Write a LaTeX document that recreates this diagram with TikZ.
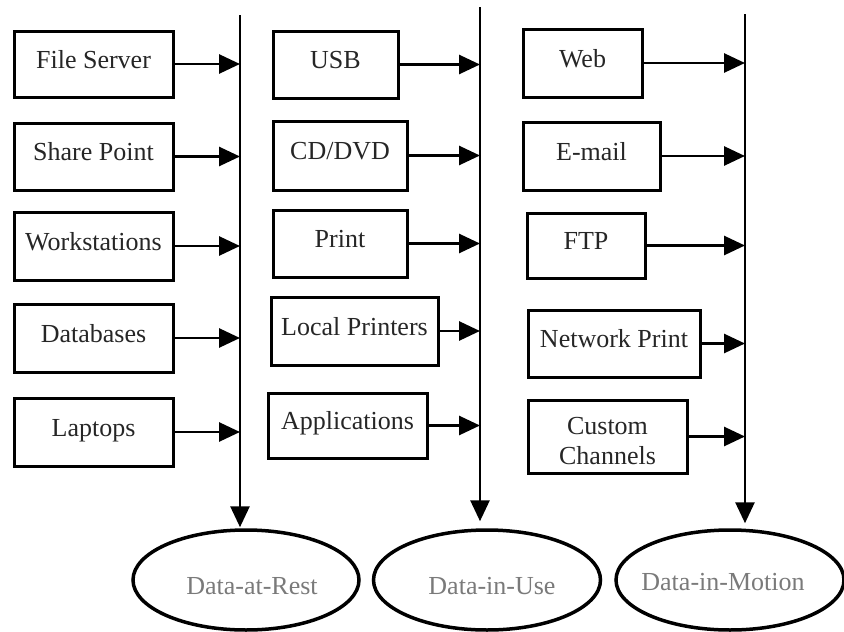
\documentclass[tikz,border=0pt]{standalone}
\usepackage{fontspec}
\setmainfont{Liberation Serif}
\usetikzlibrary{arrows.meta,shapes.geometric}

\begin{document}
\begin{tikzpicture}[x=1pt,y=-1pt,
  every node/.style={font=\fontsize{26}{30}\selectfont},
  srcbox/.style={draw=black, line width=3pt, rectangle, inner sep=0pt,
    text=black!85, text height=18pt, text depth=10pt},
  tallbox/.style={draw=black, line width=3pt, rectangle, inner sep=0pt,
    text=black!85, align=center},
  state/.style={draw=black, line width=3.5pt, ellipse, inner sep=0pt,
    minimum height=100pt},
  statetext/.style={text=black!52, inner sep=0pt},
  flow/.style={line width=2.8pt, -{Triangle[length=21pt,width=19pt]}}
]
\useasboundingbox (0,0) rectangle (844,632);

% three collecting lines
\coordinate (t1) at (240,15);
\coordinate (t2) at (480,7);
\coordinate (t3) at (745,14);

% data states
\node[state, minimum width=226pt] (e1) at (246,580) {};
\node[state, minimum width=227pt] (e2) at (487,580) {};
\node[state, minimum width=228pt] (e3) at (730,580) {};
\node[statetext] (l1) at (252,586) {Data-at-Rest};
\node[statetext] (l2) at (492,586) {Data-in-Use};
\node[statetext] (l3) at (723,582) {Data-in-Motion};

% data at rest
\node[srcbox, minimum width=159pt, minimum height=66pt] (fs) at (93.5,64) {File Server};
\node[srcbox, minimum width=159pt, minimum height=67pt] (sp) at (93.5,156.5) {Share Point};
\node[srcbox, minimum width=159pt, minimum height=68pt] (ws) at (93.5,246) {Workstations};
\node[srcbox, minimum width=159pt, minimum height=68pt] (db) at (93.5,338) {Databases};
\node[srcbox, minimum width=159pt, minimum height=68pt] (lp) at (93.5,432) {Laptops};

% data in use
\node[srcbox, minimum width=125pt, minimum height=67pt] (usb) at (335.5,64.5) {USB};
\node[srcbox, minimum width=134pt, minimum height=69pt] (cd) at (340,155.5) {CD/DVD};
\node[srcbox, minimum width=134pt, minimum height=67pt] (pr) at (340,243.5) {Print};
\node[srcbox, minimum width=167pt, minimum height=68pt] (lpr) at (354.5,331) {Local Printers};
\node[srcbox, minimum width=159pt, minimum height=65pt] (app) at (347.5,425.5) {Applications};

% data in motion
\node[srcbox, minimum width=119pt, minimum height=68pt] (web) at (582.5,63) {Web};
\node[srcbox, minimum width=137pt, minimum height=68pt] (em) at (591.5,156) {E-mail};
\node[srcbox, minimum width=118pt, minimum height=65pt] (ftp) at (586,245.5) {FTP};
\node[srcbox, minimum width=172pt, minimum height=67pt] (np) at (614,343.5) {Network Print};
\node[tallbox, minimum width=159pt, minimum height=73pt] (cc) at (607.5,436.5) {\rule{0pt}{27pt}Custom\\Channels};

% vertical collectors
\draw[flow, shorten >=1pt] (t1) -- (t1 |- e1.north);
\draw[flow, shorten >=7pt] (t2) -- (t2 |- e2.north);
\draw[flow, shorten >=5pt] (t3) -- (t3 |- e3.north);

% feeds into the collectors
\foreach \b in {fs,sp,ws,db,lp}
  \draw[flow] (\b.east) -- (\b.east -| t1);
\foreach \b in {usb,cd,pr,lpr,app}
  \draw[flow] (\b.east) -- (\b.east -| t2);
\foreach \b in {web,em,ftp,np,cc}
  \draw[flow] (\b.east) -- (\b.east -| t3);
\end{tikzpicture}
\end{document}
